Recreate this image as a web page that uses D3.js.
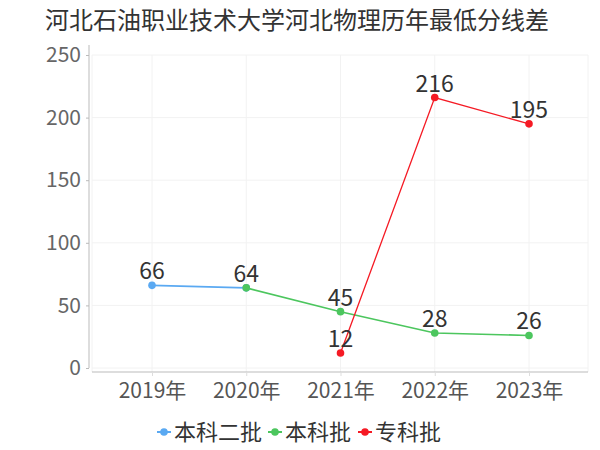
<!DOCTYPE html>
<html><head><meta charset="utf-8">
<script src="https://cdn.jsdelivr.net/npm/d3@7"></script>
<style>body{margin:0;background:#fff}svg{display:block}</style>
</head><body>
<svg id="c" width="600" height="450"></svg>
<script>
const title = "河北石油职业技术大学河北物理历年最低分线差";
const categories = ["2019年","2020年","2021年","2022年","2023年"];
const seriesNames = ["本科二批","本科批","专科批"];
const seriesColors = ["#5aa9f2","#4cc65e","#f51a24"];
const values0 = [66, 64, null, null, null];
const values1 = [null, 64, 45, 28, 26];
const values2 = [null, null, 12, 216, 195];
const yTicks = [0,50,100,150,200,250];

(function(){
const series = seriesNames.map((n,i)=>({name:n,color:seriesColors[i],values:[values0,values1,values2][i]}));
const svg = d3.select("#c");
const font = "'Noto Sans CJK SC','Noto Sans',sans-serif";

const pL=92,pR=588,pT=55,pB=368;
const x = d3.scalePoint().domain(categories).range([152,529]);
const y = d3.scaleLinear().domain([0,250]).range([pB,pT]);

svg.append("text").attr("x",45).attr("y",29).attr("font-family",font).attr("font-size",24)
  .attr("fill","#333").text(title);

const g = svg.append("g");
g.selectAll("line.h").data(yTicks).enter().append("line")
  .attr("x1",pL).attr("x2",pR).attr("y1",d=>y(d)).attr("y2",d=>y(d))
  .attr("stroke","#f2f2f2").attr("stroke-width",1);
g.selectAll("line.v").data([pL,...categories.map(c=>x(c)),pR]).enter().append("line")
  .attr("x1",d=>d).attr("x2",d=>d).attr("y1",pT).attr("y2",pB+4)
  .attr("stroke","#f2f2f2").attr("stroke-width",1);

const ya = svg.append("g").attr("transform","translate(89,0)")
  .call(d3.axisLeft(y).tickValues(yTicks).tickSize(3).tickPadding(5));
ya.select(".domain").attr("stroke","#bbb").attr("d",`M0,45V${pB}`);
ya.selectAll(".tick line").attr("stroke","#bbb");
ya.selectAll(".tick text").attr("font-family",font).attr("font-size",21).attr("fill","#666");

const xa = svg.append("g").attr("transform","translate(0,372)")
  .call(d3.axisBottom(x).tickSize(4).tickPadding(7));
xa.select(".domain").attr("stroke","#bbb").attr("d",`M${pL},0H${pR}`);
xa.selectAll(".tick line").attr("stroke","#ddd");
xa.selectAll(".tick text").attr("font-family",font).attr("font-size",21).attr("fill","#555");

const line = d3.line().defined(d=>d.v!=null).x(d=>x(d.c)).y(d=>y(d.v));
series.forEach((s,i)=>{
  const pts = categories.map((c,j)=>({c,v:s.values[j]}));
  svg.append("path").datum(pts).attr("d",line).attr("fill","none")
    .attr("stroke",s.color).attr("stroke-width",i==2?1.3:1.6);
});
const labelled = new Set();
series.forEach((s,i)=>{
  const pts = categories.map((c,j)=>({c,v:s.values[j]})).filter(d=>d.v!=null);
  svg.selectAll(null).data(pts).enter().append("circle")
    .attr("cx",d=>x(d.c)).attr("cy",d=>y(d.v)).attr("r",3.8).attr("fill",s.color);
  const lp = pts.filter(d=>{const k=d.c+"|"+d.v; if(labelled.has(k)) return false; labelled.add(k); return true;});
  svg.selectAll(null).data(lp).enter().append("text")
    .attr("x",d=>x(d.c)).attr("y",d=>y(d.v)-6).attr("text-anchor","middle")
    .attr("font-family",font).attr("font-size",23).attr("fill","#333").text(d=>d.v);
});

const legX = [157,268,358];
series.forEach((s,i)=>{
  const lg = svg.append("g").attr("transform",`translate(${legX[i]},432)`);
  lg.append("line").attr("x1",0).attr("x2",14).attr("stroke",s.color).attr("stroke-width",2);
  lg.append("circle").attr("cx",7).attr("r",3.8).attr("fill",s.color);
  lg.append("text").attr("x",17).attr("y",8).attr("font-family",font).attr("font-size",22)
    .attr("fill","#333").text(s.name);
});
})();
</script>
</body></html>
